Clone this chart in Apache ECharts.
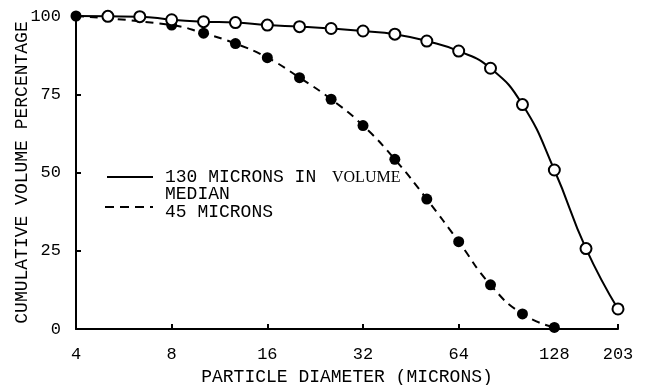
<!DOCTYPE html>
<html>
<head>
<meta charset="utf-8">
<script src="https://cdn.jsdelivr.net/npm/echarts@6/dist/echarts.min.js"></script>
<style>
  html, body { margin: 0; padding: 0; background: #fff; }
  #chart { width: 654px; height: 385px; }
</style>
</head>
<body>
<div id="chart"></div>
<script>
  // particle diameter (microns), 1/3 octave steps
  const diamOpen = [4, 5.04, 6.35, 8, 10.08, 12.7, 16, 20.2, 25.4, 32, 40.3, 50.8, 64, 80.6, 101.6, 128, 161, 203];
  const volOpen = [100, 99.9, 99.8, 98.8, 98.2, 97.9, 97.1, 96.6, 96.0, 95.2, 94.2, 92.0, 88.8, 83.3, 71.7, 50.8, 25.7, 6.4];

  const diamFilled = [4, 8, 10.08, 12.7, 16, 20.2, 25.4, 32, 40.3, 50.8, 64, 80.6, 101.6, 128];
  const volFilled = [100, 97.1, 94.5, 91.2, 86.7, 80.3, 73.4, 65.0, 54.2, 41.5, 27.9, 14.1, 4.8, 0.5];

  const yTicks = [0, 25, 50, 75, 100];

  const mono = 'Liberation Mono';
  const chart = echarts.init(document.getElementById('chart'));

  // open circle series: first point has no marker (hidden under filled one)
  const openData = diamOpen.map((d, i) => i === 0 ? { value: [d, volOpen[i]], symbol: 'none' } : [d, volOpen[i]]);
  const filledData = diamFilled.map((d, i) => [d, volFilled[i]]);

  chart.setOption({
    animation: false,
    grid: { left: 76, right: 36, top: 16, bottom: 56, containLabel: false, outerBoundsMode: 'none' },
    xAxis: {
      type: 'log',
      logBase: 2,
      min: 4,
      max: 203,
      name: 'PARTICLE DIAMETER (MICRONS)',
      nameLocation: 'middle',
      nameGap: 39,
      nameMoveOverlap: false,
      nameTextStyle: { fontFamily: mono, fontSize: 18, color: '#000' },
      axisLine: { lineStyle: { color: '#000', width: 2 } },
      axisTick: { inside: true, length: 5, lineStyle: { color: '#000', width: 2 } },
      axisLabel: {
        margin: 17, fontFamily: mono, fontSize: 17, color: '#000',
        formatter: v => String(Math.round(v))
      },
      splitLine: { show: false },
      minorTick: { show: false }
    },
    yAxis: {
      type: 'value',
      min: yTicks[0],
      max: yTicks[yTicks.length - 1],
      interval: 25,
      name: 'CUMULATIVE VOLUME PERCENTAGE',
      nameLocation: 'middle',
      nameGap: 45,
      nameMoveOverlap: false,
      nameTextStyle: { fontFamily: mono, fontSize: 18, color: '#000' },
      axisLine: { show: true, lineStyle: { color: '#000', width: 2 } },
      axisTick: { show: true, inside: true, length: 5, lineStyle: { color: '#000', width: 2 } },
      axisLabel: { margin: 15, fontFamily: mono, fontSize: 17, color: '#000' },
      splitLine: { show: false }
    },
    series: [
      {
        name: '45 MICRONS',
        type: 'line',
        data: filledData,
        smooth: true,
        symbol: 'circle',
        symbolSize: 11,
        itemStyle: { color: '#000' },
        lineStyle: { color: '#000', width: 2, type: [8, 6] },
        z: 2
      },
      {
        name: '130 MICRONS',
        type: 'line',
        data: openData,
        smooth: true,
        symbol: 'circle',
        symbolSize: 11,
        itemStyle: { color: '#fff', borderColor: '#000', borderWidth: 2 },
        lineStyle: { color: '#000', width: 2 },
        z: 3
      }
    ],
    graphic: [
      { type: 'line', shape: { x1: 107, y1: 177, x2: 153, y2: 177 }, style: { stroke: '#000', lineWidth: 2 } },
      { type: 'text', left: 165, top: 168, style: { text: '130 MICRONS IN', font: '18px "Liberation Mono"', fill: '#000' } },
      { type: 'text', left: 332, top: 170, style: { text: 'VOLUME', font: '16px "Liberation Serif"', fill: '#000' } },
      { type: 'text', left: 165, top: 185, style: { text: 'MEDIAN', font: '18px "Liberation Mono"', fill: '#000' } },
      { type: 'line', shape: { x1: 105, y1: 207, x2: 153, y2: 207 }, style: { stroke: '#000', lineWidth: 2, lineDash: [9, 6] } },
      { type: 'text', left: 165, top: 203, style: { text: '45 MICRONS', font: '18px "Liberation Mono"', fill: '#000' } }
    ]
  });
</script>
</body>
</html>
